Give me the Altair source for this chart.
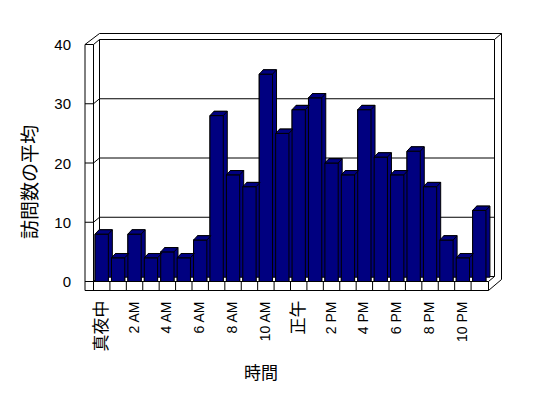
import altair as alt
import pandas as pd

# ---- data ----
hours = ['真夜中', '1 AM', '2 AM', '3 AM', '4 AM', '5 AM', '6 AM', '7 AM', '8 AM', '9 AM', '10 AM', '11 AM',
         '正午', '1 PM', '2 PM', '3 PM', '4 PM', '5 PM', '6 PM', '7 PM', '8 PM', '9 PM', '10 PM', '11 PM']
visits = [8, 4, 8, 4, 5, 4, 7, 28, 18, 16, 35, 25, 29, 31, 20, 18, 29, 21, 18, 22, 16, 7, 4, 12]
shown_labels = hours[::2]
y_ticks = [0, 10, 20, 30, 40]

df = pd.DataFrame({'hour': hours, 'visits': visits})
ticks_df = pd.DataFrame({'v': y_ticks})
one = pd.DataFrame({'a': [0]})

# ---- style ----
W, H = 394, 237
NAVY = '#000080'
DX, DY = 4, 4.3          # depth of each bar (px)
WALL = 8.5               # thickness of left wall / floor (px)
BX, BY = 6, 5            # offset of back wall (px)
PAD_I = 0.19
step = W / len(hours)
bw = step * (1 - PAD_I)
hw = bw / 2
r = hw + DX
pts = [(-hw, 0), (hw, 0), (hw + DX, -DY), (-hw + DX, -DY)]
top_path = 'M' + 'L'.join(f'{x / r:.4f},{y / r:.4f}' for x, y in pts) + 'Z'
top_size = (2 * r) ** 2

xscale = alt.Scale(paddingInner=PAD_I, paddingOuter=PAD_I / 2)
yscale = alt.Scale(domain=[0, 40], nice=False, zero=True)
LATIN_FONT = 'Liberation Sans'
CJK_FONT = 'Noto Sans CJK JP'

x_axis = alt.Axis(
    labels=False, domain=False, ticks=False, tickSize=0, grid=False,
    title='時間', titleFont=CJK_FONT, titleFontSize=17, titleFontWeight='normal', titleColor='black',
    titleX=167, titleY=92, titleAlign='center', titleBaseline='middle')
y_axis = alt.Axis(
    values=y_ticks, domain=False, ticks=False, tickSize=0, grid=False, labelPadding=23,
    labelFont=LATIN_FONT, labelFontSize=15, labelColor='black',
    title='訪問数の平均', titleFont=CJK_FONT, titleFontSize=19, titleFontWeight='normal',
    titleColor='black', titleAngle=270, titleX=-63, titleY=137, titleAlign='center',
    titleBaseline='middle')


def xenc():
    return alt.X('hour:N', sort=hours, scale=xscale, axis=x_axis, title='時間')


def yenc(field):
    return alt.Y(field, scale=yscale, axis=y_axis, title='訪問数の平均')


def seg(x1, y1, x2, y2):
    return alt.Chart(one).mark_rule(color='black', strokeWidth=1).encode(
        x=alt.value(x1), y=alt.value(y1), x2=alt.value(x2), y2=alt.value(y2))


# back wall gridlines (on the back wall, tied to the y scale)
grid = alt.Chart(ticks_df).mark_rule(color='black', strokeWidth=1, yOffset=-BY).encode(
    y=yenc('v:Q'), x=alt.value(BX), x2=alt.value(W + BX + 1))
# ticks across the left wall
wall_ticks = alt.Chart(ticks_df).mark_rule(color='black', strokeWidth=1).encode(
    y=yenc('v:Q'), x=alt.value(-WALL), x2=alt.value(0))
# diagonals from left wall to back wall
wall_diag = alt.Chart(ticks_df).mark_rule(color='black', strokeWidth=1, y2Offset=-BY).encode(
    y=yenc('v:Q'), y2='v:Q', x=alt.value(0), x2=alt.value(BX))

frame = [
    seg(-WALL, 0, -WALL, H + 9),              # left wall outer
    seg(0, 0, 0, H),                          # left wall inner
    seg(BX, -BY, BX, H - BY),                 # back wall left edge
    seg(W + BX + 1, -BY, W + BX + 1, H - BY), # back wall right edge
    seg(BX, -BY - 6, W + BX + 8, -BY - 6),    # back wall top thickness
    seg(-WALL, 0, BX, -BY - 6),               # top-left diagonal
    seg(W + BX + 1, -BY, W + BX + 8, -BY - 6),# top-right diagonal
    seg(W + BX + 8, -BY - 6, W + BX + 8, H - 2),  # right outer edge
]

floor = [
    seg(-WALL, H + 9, W + 1, H + 9),          # floor bottom
    seg(0, H, W + 1, H),                      # floor top front edge
    seg(W + 1, H, W + 1, H + 9),              # floor right end
    seg(W + 1, H + 9, W + BX + 8, H - 2),     # floor bottom-right diagonal
    seg(W + 1, H, W + BX + 1, H - BY),        # floor top-right diagonal
]

floor_div = alt.Chart(df).mark_rule(color='black', strokeWidth=1, xOffset=-step / 2).encode(
    x=xenc(), y=alt.value(H), y2=alt.value(H + 9))

back_bar = alt.Chart(df).mark_bar(color=NAVY, stroke='black', strokeWidth=1,
                                  xOffset=DX, yOffset=-DY, y2Offset=-DY).encode(
    x=xenc(), y=yenc('visits:Q'), y2=alt.datum(0))

front_bar = alt.Chart(df).mark_bar(color=NAVY, stroke='black', strokeWidth=1).encode(
    x=xenc(), y=yenc('visits:Q'))

top_face = alt.Chart(df).mark_point(shape=top_path, size=top_size, filled=True, fill=NAVY,
                                    stroke='black', strokeWidth=1, opacity=1).encode(
    x=xenc(), y=yenc('visits:Q'))

is_cjk = "datum.hour == '真夜中' || datum.hour == '正午'"
shown = alt.FieldOneOfPredicate(field='hour', oneOf=shown_labels)

latin_labels = alt.Chart(df).transform_filter(shown).transform_filter('!(' + is_cjk + ')').mark_text(
    angle=270, align='right', baseline='middle', font=LATIN_FONT, fontSize=14, color='black'
).encode(x=xenc(), y=alt.value(H + 20), text='hour:N')

cjk_labels = alt.Chart(df).transform_filter(shown).transform_filter(is_cjk).mark_text(
    angle=270, align='right', baseline='middle', font=CJK_FONT, fontSize=17, color='black'
).encode(x=xenc(), y=alt.value(H + 19), text='hour:N')

chart = alt.layer(
    front_bar, grid, wall_ticks, wall_diag, *frame, back_bar, front_bar, top_face, floor_div, *floor,
    latin_labels, cjk_labels
).properties(
    width=W, height=H,
    autosize=alt.AutoSizeParams(type='none'),
    padding={'left': 93.5, 'top': 44.5, 'right': 548 - 93.5 - W, 'bottom': 398 - 44.5 - H},
    background='white'
).configure_view(stroke=None)

chart.save('out.html', embed_options={'renderer': 'svg', 'actions': False})
